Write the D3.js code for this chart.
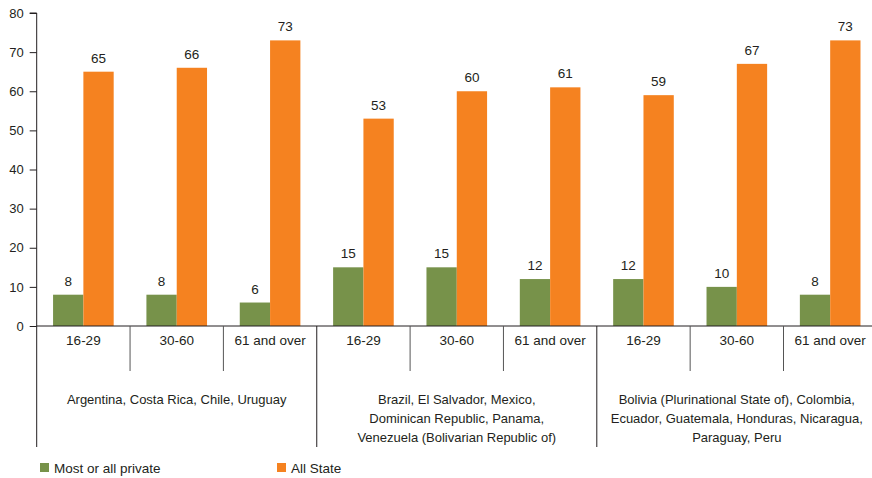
<!DOCTYPE html>
<html>
<head>
<meta charset="utf-8">
<script src="https://cdn.jsdelivr.net/npm/d3@7"></script>
<style>
  html, body { margin: 0; padding: 0; background: #fff; }
  svg text { font-family: "Liberation Sans", Arial, sans-serif; fill: #231f20; }
</style>
</head>
<body>
<svg id="chart" width="872" height="478"></svg>
<script>
// Age groups repeated within each country group
const ageGroups = ["16-29", "30-60", "61 and over"];
const countryGroups = [
  ["Argentina, Costa Rica, Chile, Uruguay"],
  ["Brazil, El Salvador, Mexico,", "Dominican Republic, Panama,", "Venezuela (Bolivarian Republic of)"],
  ["Bolivia (Plurinational State of), Colombia,", "Ecuador, Guatemala, Honduras, Nicaragua,", "Paraguay, Peru"]
];
const seriesNames = ["Most or all private", "All State"];
const privateValues = [8, 8, 6, 15, 15, 12, 12, 10, 8];
const stateValues = [65, 66, 73, 53, 60, 61, 59, 67, 73];
const yTicks = [0, 10, 20, 30, 40, 50, 60, 70, 80];
const colors = ["#77924a", "#f58220"];

const svg = d3.select("#chart");
const x0 = 36.7, bandW = 93.35, yTop = 13, yZero = 326;

const cats = d3.range(countryGroups.length * ageGroups.length);
const x = d3.scaleBand().domain(cats).range([x0, x0 + bandW * cats.length]).paddingInner(0).paddingOuter(0);
const xInner = d3.scaleBand().domain([0, 1]).range([0, x.bandwidth()]).paddingOuter(0.54).paddingInner(0);
const y = d3.scaleLinear().domain([0, 80]).range([yZero, yTop]);

// Y axis
const yAxis = d3.axisLeft(y).tickValues(yTicks).tickSize(7).tickPadding(6);
const gy = svg.append("g").attr("transform", `translate(${x0},0)`).call(yAxis);
gy.select(".domain").attr("stroke", "#231f20").attr("d", `M-7,${yTop}H0V${yZero}`);
gy.selectAll(".tick line").attr("stroke", "#231f20");
gy.selectAll(".tick text").style("font-size", "13px").attr("fill", "#231f20");

// Bars
const data = cats.map(i => ({ i, vals: [privateValues[i], stateValues[i]] }));
const groups = svg.append("g").selectAll("g").data(data).join("g")
  .attr("transform", d => `translate(${x(d.i)},0)`);
groups.selectAll("rect").data(d => d.vals.map((v, k) => ({ v, k }))).join("rect")
  .attr("x", d => xInner(d.k))
  .attr("width", xInner.bandwidth())
  .attr("y", d => y(d.v))
  .attr("height", d => y(0) - y(d.v))
  .attr("fill", d => colors[d.k]);
groups.selectAll("text.val").data(d => d.vals.map((v, k) => ({ v, k }))).join("text")
  .attr("class", "val")
  .attr("x", d => xInner(d.k) + xInner.bandwidth() / 2)
  .attr("y", d => y(d.v) - 9)
  .attr("text-anchor", "middle")
  .style("font-size", "13.5px")
  .text(d => d.v);

// X axis baseline
svg.append("line").attr("x1", x0).attr("x2", 872).attr("y1", yZero).attr("y2", yZero)
  .attr("stroke", "#231f20");

// Category separators: short between age groups, tall between country groups
cats.forEach(i => {
  const xs = x(i);
  const tall = i % ageGroups.length === 0;
  svg.append("line").attr("x1", xs).attr("x2", xs)
    .attr("y1", yZero).attr("y2", tall ? 447 : 371)
    .attr("stroke", tall ? "#231f20" : "#555");
});
svg.append("line").attr("x1", x0 + bandW * cats.length).attr("x2", x0 + bandW * cats.length)
  .attr("y1", yZero).attr("y2", 447).attr("stroke", "#231f20");

// Age labels
svg.append("g").selectAll("text").data(cats).join("text")
  .attr("x", i => x(i) + x.bandwidth() / 2)
  .attr("y", 345)
  .attr("text-anchor", "middle")
  .style("font-size", "13.5px")
  .text(i => ageGroups[i % ageGroups.length]);

// Country group labels
countryGroups.forEach((lines, g) => {
  const cx = x0 + bandW * ageGroups.length * (g + 0.5);
  const t = svg.append("text").attr("x", cx).attr("y", 404).attr("text-anchor", "middle").style("font-size", "13px");
  lines.forEach((l, j) => t.append("tspan").attr("x", cx).attr("dy", j === 0 ? 0 : 19).text(l));
});

// Legend
const legendX = [40, 277];
seriesNames.forEach((name, k) => {
  svg.append("rect").attr("x", legendX[k]).attr("y", 463).attr("width", 9).attr("height", 9).attr("fill", colors[k]);
  svg.append("text").attr("x", legendX[k] + 14).attr("y", 472.5).style("font-size", "13.5px").text(name);
});
</script>
</body>
</html>
